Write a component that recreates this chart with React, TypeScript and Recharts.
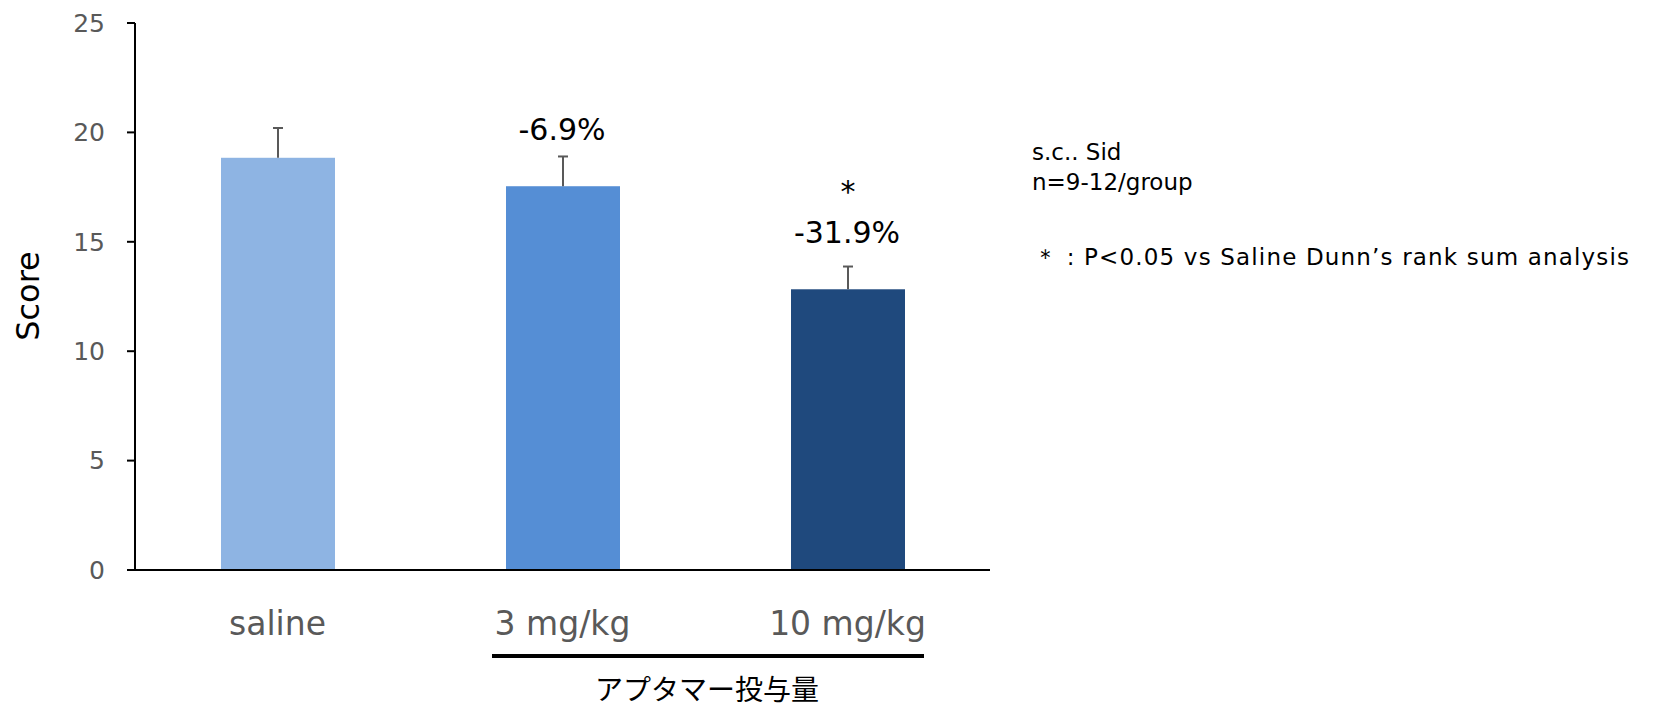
import { BarChart, Bar, XAxis, YAxis, Cell, LabelList } from 'recharts';

const groups = ['saline', '3 mg/kg', '10 mg/kg'];
const scores = [18.84, 17.54, 12.83];
const sems = [1.36, 1.36, 1.04];
const changeLabels = ['', '-6.9%', '-31.9%'];
const sigMarks = ['', '', '*'];
const yTicks = [0, 5, 10, 15, 20, 25];

const barColors = ['#8EB4E3', '#558ED5', '#1F497D'];
const font = '"DejaVu Sans", Verdana, sans-serif';

const data = groups.map((name, i) => ({
	name,
	score: scores[i],
	sem: sems[i],
}));

const XTick = ({ x, y, payload }: any) => (
	<text
		x={x}
		y={y + 63}
		textAnchor='middle'
		fill='#595959'
		fontSize={33}
		fontFamily={font}
	>
		{payload.value}
	</text>
);

// bar + upper-only error whisker, scaled from the bar's own height
const BarWithError = (props: any) => {
	const { x, y, width, height, fill, payload } = props;
	const cx = x + width / 2;
	const top = y - (payload.sem * height) / payload.score;
	return (
		<g>
			<rect x={x} y={y} width={width} height={height} fill={fill} />
			<line x1={cx} y1={y} x2={cx} y2={top} stroke='#595959' strokeWidth={2} />
			<line x1={cx - 5} y1={top} x2={cx + 5} y2={top} stroke='#595959' strokeWidth={2} />
		</g>
	);
};

const ChangeLabel = ({ x, y, width, index }: any) => {
	const cx = x + width / 2;
	return (
		<g fontFamily={font} fill='#000'>
			{changeLabels[index] && (
				<text x={cx - 1} y={y - 46} textAnchor='middle' fontSize={30}>
					{changeLabels[index]}
				</text>
			)}
			{sigMarks[index] && (
				<text x={cx} y={y - 87} textAnchor='middle' fontSize={30}>
					{sigMarks[index]}
				</text>
			)}
		</g>
	);
};

const App = () => {
	return (
		<div style={{ position: 'absolute', left: 0, top: 0, width: 1660, height: 711, background: '#fff' }}>
			<BarChart
				width={1660}
				height={711}
				data={data}
				margin={{ top: 23, right: 670, bottom: 81, left: 75 }}
			>
				<XAxis
					dataKey='name'
					height={60}
					axisLine={{ stroke: '#000', strokeWidth: 2 }}
					tickLine={false}
					tickSize={0}
					tick={<XTick />}
					interval={0}
				/>
				<YAxis
					width={60}
					domain={[0, 25]}
					ticks={yTicks}
					interval={0}
					axisLine={{ stroke: '#000', strokeWidth: 2 }}
					tickLine={{ stroke: '#000', strokeWidth: 2 }}
					tickSize={8}
					tickMargin={22}
					tick={{ fill: '#595959', fontSize: 25, fontFamily: font }}
				/>
				<Bar dataKey='score' barSize={114} shape={<BarWithError />} isAnimationActive={false}>
					{data.map((d, i) => (
						<Cell key={d.name} fill={barColors[i]} />
					))}
					<LabelList dataKey='score' content={<ChangeLabel />} />
				</Bar>
			</BarChart>
			<svg
				width={1660}
				height={711}
				style={{ position: 'absolute', left: 0, top: 0, pointerEvents: 'none' }}
			>
				<text
					x={28}
					y={296}
					transform='rotate(-90 28 296)'
					textAnchor='middle'
					dominantBaseline='central'
					fontSize={32}
					fontFamily={font}
					fill='#000'
				>
					Score
				</text>
				<line x1={492} y1={656} x2={924} y2={656} stroke='#000' strokeWidth={4} />
				<text
					x={707}
					y={688}
					textAnchor='middle'
					dominantBaseline='central'
					fontSize={28}
					fontFamily='"Noto Sans CJK JP", sans-serif'
					fill='#000'
				>
					アプタマー投与量
				</text>
				<g fontFamily={font} fontSize={23} fill='#000'>
					<text x={1032} y={160}>s.c.. Sid</text>
					<text x={1032} y={190}>n=9-12/group</text>
					<text x={1034} y={265} textLength={595} lengthAdjust='spacing'>
						＊ : P&lt;0.05 vs Saline Dunn’s rank sum analysis
					</text>
				</g>
			</svg>
		</div>
	);
};

export default App;
